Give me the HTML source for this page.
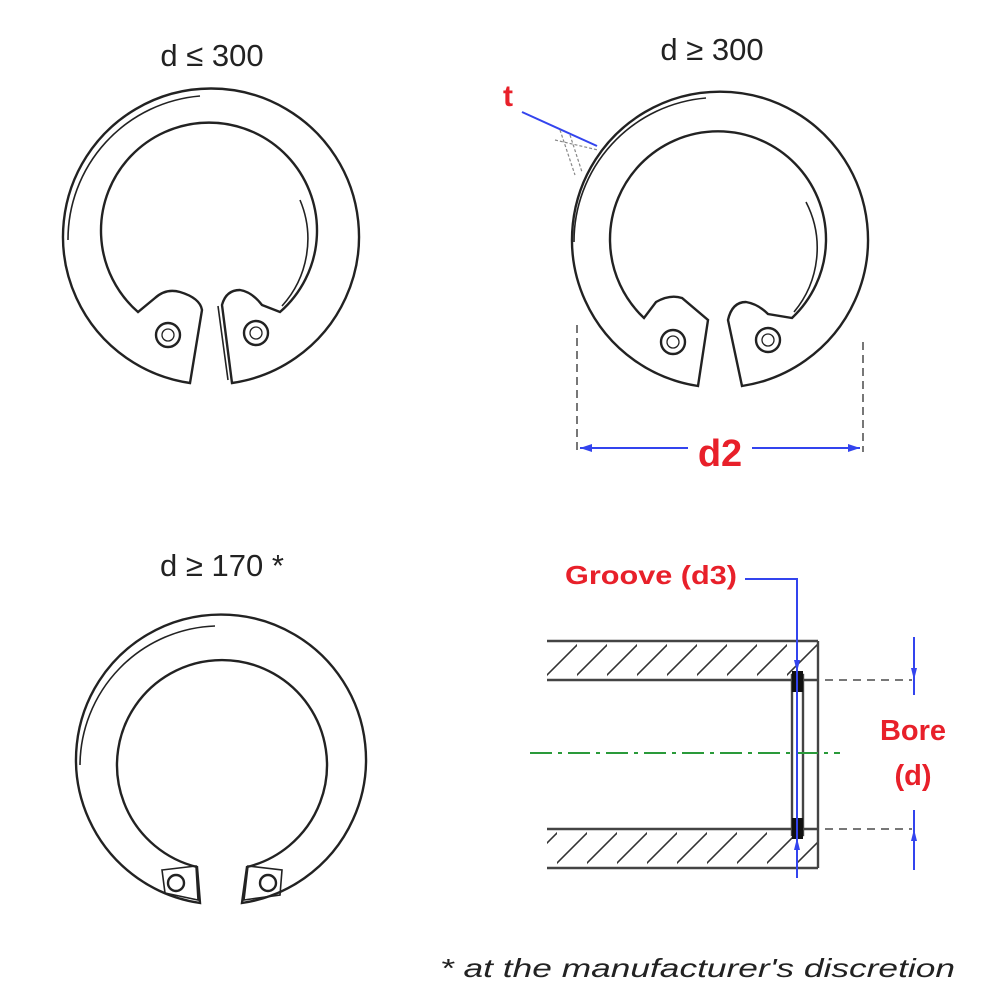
<!DOCTYPE html>
<html><head><meta charset="utf-8"><style>
html,body{margin:0;padding:0;background:#fff;width:1000px;height:1000px;overflow:hidden}
text{font-family:"Liberation Sans",sans-serif}
</style></head><body>
<svg width="1000" height="1000" viewBox="0 0 1000 1000" xmlns="http://www.w3.org/2000/svg">
<defs>
<pattern id="h" width="30" height="39" patternUnits="userSpaceOnUse" patternTransform="translate(547,641)">
<line x1="-5" y1="39" x2="34" y2="0" stroke="#333" stroke-width="1.6"/>
</pattern>
<pattern id="h2" width="30" height="39" patternUnits="userSpaceOnUse" patternTransform="translate(557,829)">
<line x1="-5" y1="39" x2="34" y2="0" stroke="#333" stroke-width="1.6"/>
</pattern>
</defs>
<g fill="none" stroke="#222" stroke-width="2.4">
<!-- Ring 1 -->
<g>
<path d="M190,383 A148 148 0 1 1 232,383 L222,305 Q226,290 240,290 Q252,292 262,305 L280,312 A108 108 0 1 0 138,312 L155,298 Q166,288 180,292 Q200,298 202,310 Z"/>
<path d="M68,240 A144 144 0 0 1 200,96" stroke-width="1.6"/>
<path d="M282,306 A100 100 0 0 0 300,200" stroke-width="1.6"/>
<path d="M228,380 L218,306" stroke-width="1.6"/>
<circle cx="168" cy="335" r="12"/><circle cx="168" cy="335" r="6" stroke-width="1.3"/>
<circle cx="256" cy="333" r="12"/><circle cx="256" cy="333" r="6" stroke-width="1.3"/>
</g>
<!-- Ring 2 -->
<g transform="translate(506,2)">
<path d="M192,384 A148 148 0 1 1 236,384 L222,318 Q226,300 240,300 Q252,302 262,312 L286,316 A108 108 0 1 0 138,316 L150,300 Q164,292 176,296 L202,318 Z"/>
<path d="M68,240 A144 144 0 0 1 200,96" stroke-width="1.6"/>
<path d="M288,310 A100 100 0 0 0 300,200" stroke-width="1.6"/>
<circle cx="167" cy="340" r="12"/><circle cx="167" cy="340" r="6" stroke-width="1.3"/>
<circle cx="262" cy="338" r="12"/><circle cx="262" cy="338" r="6" stroke-width="1.3"/>
</g>
<!-- Ring 3 -->
<g>
<path d="M200,903 A145 145 0 1 1 242,903 L247,867 A105 105 0 1 0 197,867 Z"/>
<path d="M80,765 A140 140 0 0 1 215,626" stroke-width="1.6"/>
<path d="M162,870 L196,866 L198,900 L165,893 Z" stroke-width="1.6"/>
<path d="M248,866 L282,870 L280,895 L244,900 Z" stroke-width="1.6"/>
<circle cx="176" cy="883" r="8"/><circle cx="268" cy="883" r="8"/>
</g>
</g>
<!-- titles -->
<text x="212" y="66" font-size="31" text-anchor="middle" fill="#222">d ≤ 300</text>
<text x="712" y="60" font-size="31" text-anchor="middle" fill="#222">d ≥ 300</text>
<text x="222" y="576" font-size="31" text-anchor="middle" fill="#222">d ≥ 170 *</text>
<!-- t -->
<text x="503" y="106" font-size="30" font-weight="bold" fill="#e8202a">t</text>
<line x1="522" y1="112" x2="597" y2="146" stroke="#3344ee" stroke-width="2"/>
<path d="M560,130 L575,175 M570,135 L582,172 M555,140 L598,150" stroke="#888" stroke-width="1.2" stroke-dasharray="3,2" fill="none"/>
<!-- d2 -->
<g stroke="#777" stroke-width="2" stroke-dasharray="8,5">
<line x1="577" y1="325" x2="577" y2="452"/><line x1="863" y1="342" x2="863" y2="452"/>
</g>
<line x1="580" y1="448" x2="860" y2="448" stroke="#3344ee" stroke-width="2"/>
<path d="M580,448 l12,-4 v8 Z M860,448 l-12,-4 v8 Z" fill="#3344ee"/>
<rect x="688" y="428" width="64" height="40" fill="#fff"/>
<text x="720" y="466" font-size="38" font-weight="bold" text-anchor="middle" fill="#e8202a">d2</text>
<!-- section -->
<rect x="547" y="641" width="271" height="39" fill="url(#h)"/>
<rect x="547" y="829" width="271" height="39" fill="url(#h2)"/>
<g stroke="#444" stroke-width="2.4" fill="none">
<line x1="547" y1="641" x2="818" y2="641"/><line x1="547" y1="680" x2="818" y2="680"/>
<line x1="547" y1="829" x2="818" y2="829"/><line x1="547" y1="868" x2="818" y2="868"/>
<line x1="818" y1="641" x2="818" y2="868"/>
<rect x="792" y="675" width="11" height="160"/>
</g>
<rect x="792" y="671" width="11" height="21" fill="#111"/>
<rect x="792" y="818" width="11" height="21" fill="#111"/>
<line x1="530" y1="753" x2="840" y2="753" stroke="#2a9a3a" stroke-width="2" stroke-dasharray="22,6,4,6"/>
<g stroke="#777" stroke-width="2" stroke-dasharray="8,6">
<line x1="825" y1="680" x2="912" y2="680"/><line x1="825" y1="829" x2="912" y2="829"/>
</g>
<polyline points="745,579 797,579 797,878" fill="none" stroke="#3344ee" stroke-width="2"/>
<path d="M797,672 l-3,-12 h6 Z M797,838 l-3,12 h6 Z" fill="#3344ee"/>
<line x1="914" y1="637" x2="914" y2="695" stroke="#3344ee" stroke-width="2"/>
<line x1="914" y1="810" x2="914" y2="870" stroke="#3344ee" stroke-width="2"/>
<path d="M914,680 l-3,-12 h6 Z M914,829 l-3,12 h6 Z" fill="#3344ee"/>
<text x="565" y="584" font-size="26" font-weight="bold" fill="#e8202a" textLength="172" lengthAdjust="spacingAndGlyphs">Groove (d3)</text>
<text x="913" y="740" font-size="29" font-weight="bold" text-anchor="middle" fill="#e8202a">Bore</text>
<text x="913" y="785" font-size="29" font-weight="bold" text-anchor="middle" fill="#e8202a">(d)</text>
<text x="440" y="977" font-size="26" font-style="italic" fill="#222" textLength="515" lengthAdjust="spacingAndGlyphs">*  at the manufacturer's discretion</text>
</svg>
</body></html>
